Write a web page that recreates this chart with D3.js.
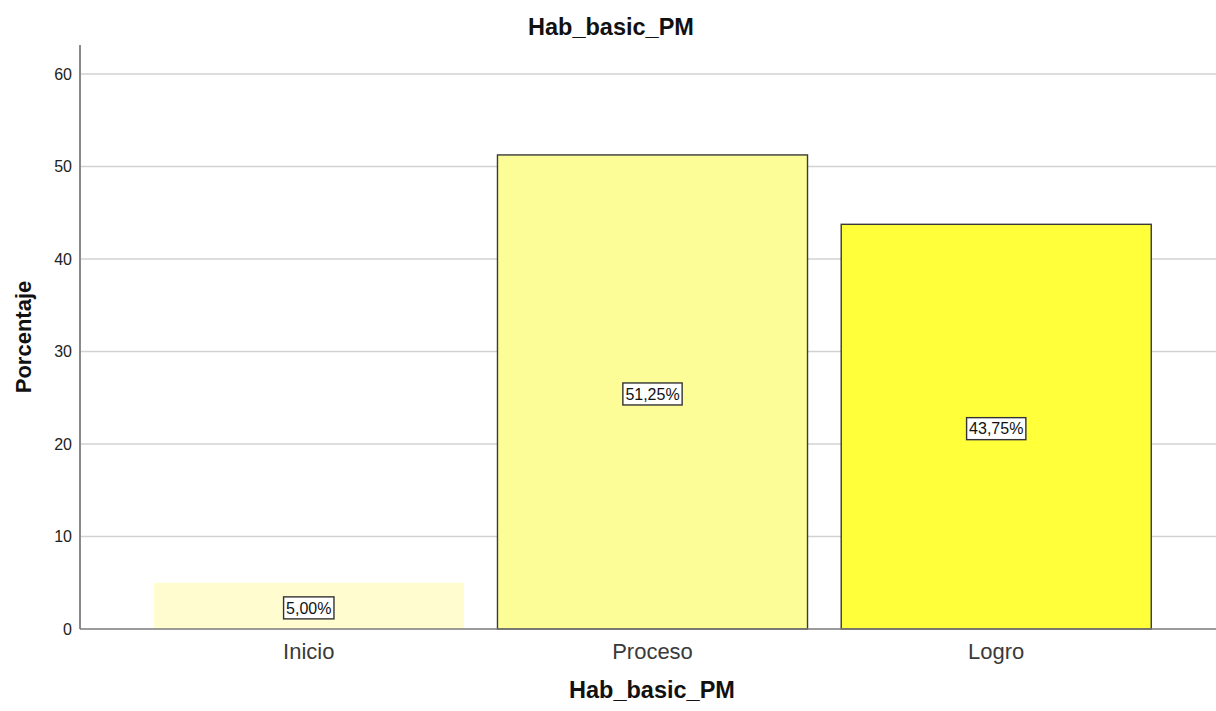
<!DOCTYPE html>
<html>
<head>
<meta charset="utf-8">
<script src="https://cdn.jsdelivr.net/npm/d3@7/dist/d3.min.js"></script>
<style>
  html, body { margin: 0; padding: 0; background: #fff; }
  svg { display: block; }
</style>
</head>
<body>
<svg id="chart" width="1216" height="711"></svg>
<script>
// Distribution of Hab_basic_PM levels (percent of respondents)
const categories = ["Inicio", "Proceso", "Logro"];
const percentages = [5.00, 51.25, 43.75];
const yTicks = [0, 10, 20, 30, 40, 50, 60];
const barColors = ["#fffdcf", "#fdfd98", "#ffff3a"];
const barOutlined = [false, true, true];

const svg = d3.select("#chart");
const plotLeft = 80, plotRight = 1216, plotTop = 45, plotBottom = 629;
const sans = "Arial, 'Liberation Sans', sans-serif";

const x = d3.scaleBand()
  .domain(categories)
  .range([85, 1220])
  .paddingInner(0.098)
  .paddingOuter(0.2);

const y = d3.scaleLinear()
  .domain([0, 60])
  .range([plotBottom, 74]);

const fmt = v => v.toFixed(2).replace(".", ",") + "%";

// Horizontal grid lines
svg.append("g")
  .selectAll("line")
  .data(yTicks.filter(t => t > 0))
  .join("line")
  .attr("x1", plotLeft).attr("x2", plotRight)
  .attr("y1", d => y(d)).attr("y2", d => y(d))
  .attr("stroke", "#d2d2d2")
  .attr("stroke-width", 1.5);

// Bars
svg.append("g")
  .selectAll("rect")
  .data(categories)
  .join("rect")
  .attr("x", d => x(d))
  .attr("width", x.bandwidth())
  .attr("y", (d, i) => y(percentages[i]))
  .attr("height", (d, i) => y(0) - y(percentages[i]))
  .attr("fill", (d, i) => barColors[i])
  .attr("stroke", (d, i) => barOutlined[i] ? "#3a3a3a" : "none")
  .attr("stroke-width", 1.4);

// Y axis
const yAxis = d3.axisLeft(y)
  .tickValues(yTicks)
  .tickSize(0)
  .tickPadding(8);
const gy = svg.append("g")
  .attr("transform", `translate(${plotLeft},0)`)
  .call(yAxis);
gy.select(".domain").remove();
gy.selectAll("text")
  .attr("font-family", sans)
  .attr("font-size", 16)
  .attr("fill", "#222");
svg.append("line")
  .attr("x1", plotLeft).attr("x2", plotLeft)
  .attr("y1", plotTop).attr("y2", plotBottom)
  .attr("stroke", "#8a8a8a").attr("stroke-width", 2);

// X axis
const xAxis = d3.axisBottom(x).tickSize(0).tickPadding(14);
const gx = svg.append("g")
  .attr("transform", `translate(0,${plotBottom})`)
  .call(xAxis);
gx.select(".domain").remove();
gx.selectAll("text")
  .attr("font-family", sans)
  .attr("font-size", 22)
  .attr("fill", "#3a3a3a");
svg.append("line")
  .attr("x1", plotLeft).attr("x2", plotRight)
  .attr("y1", plotBottom).attr("y2", plotBottom)
  .attr("stroke", "#7a7a7a").attr("stroke-width", 1.5);

// Value labels in boxes at bar mid-height
const labels = svg.append("g")
  .selectAll("g")
  .data(categories)
  .join("g")
  .attr("transform", (d, i) => `translate(${x(d) + x.bandwidth() / 2},${(y(percentages[i]) + y(0)) / 2 + 2})`);
labels.append("rect")
  .attr("fill", "#fff")
  .attr("stroke", "#333")
  .attr("stroke-width", 1.4);
labels.append("text")
  .attr("text-anchor", "middle")
  .attr("dy", "0.36em")
  .attr("font-family", sans)
  .attr("font-size", 16)
  .attr("fill", "#111")
  .text((d, i) => fmt(percentages[i]));
labels.each(function () {
  const g = d3.select(this);
  const bb = g.select("text").node().getBBox();
  g.select("rect")
    .attr("x", -bb.width / 2 - 2.5)
    .attr("y", -11)
    .attr("width", bb.width + 5)
    .attr("height", 22);
});

// Titles
svg.append("text")
  .attr("x", 611).attr("y", 35)
  .attr("text-anchor", "middle")
  .attr("font-family", sans)
  .attr("font-weight", "bold")
  .attr("font-size", 23.5)
  .attr("fill", "#111")
  .text("Hab_basic_PM");

svg.append("text")
  .attr("x", 652).attr("y", 698)
  .attr("text-anchor", "middle")
  .attr("font-family", sans)
  .attr("font-weight", "bold")
  .attr("font-size", 23.5)
  .attr("fill", "#111")
  .text("Hab_basic_PM");

svg.append("text")
  .attr("transform", "translate(31,337) rotate(-90)")
  .attr("text-anchor", "middle")
  .attr("font-family", sans)
  .attr("font-weight", "bold")
  .attr("font-size", 22)
  .attr("fill", "#111")
  .text("Porcentaje");
</script>
</body>
</html>
